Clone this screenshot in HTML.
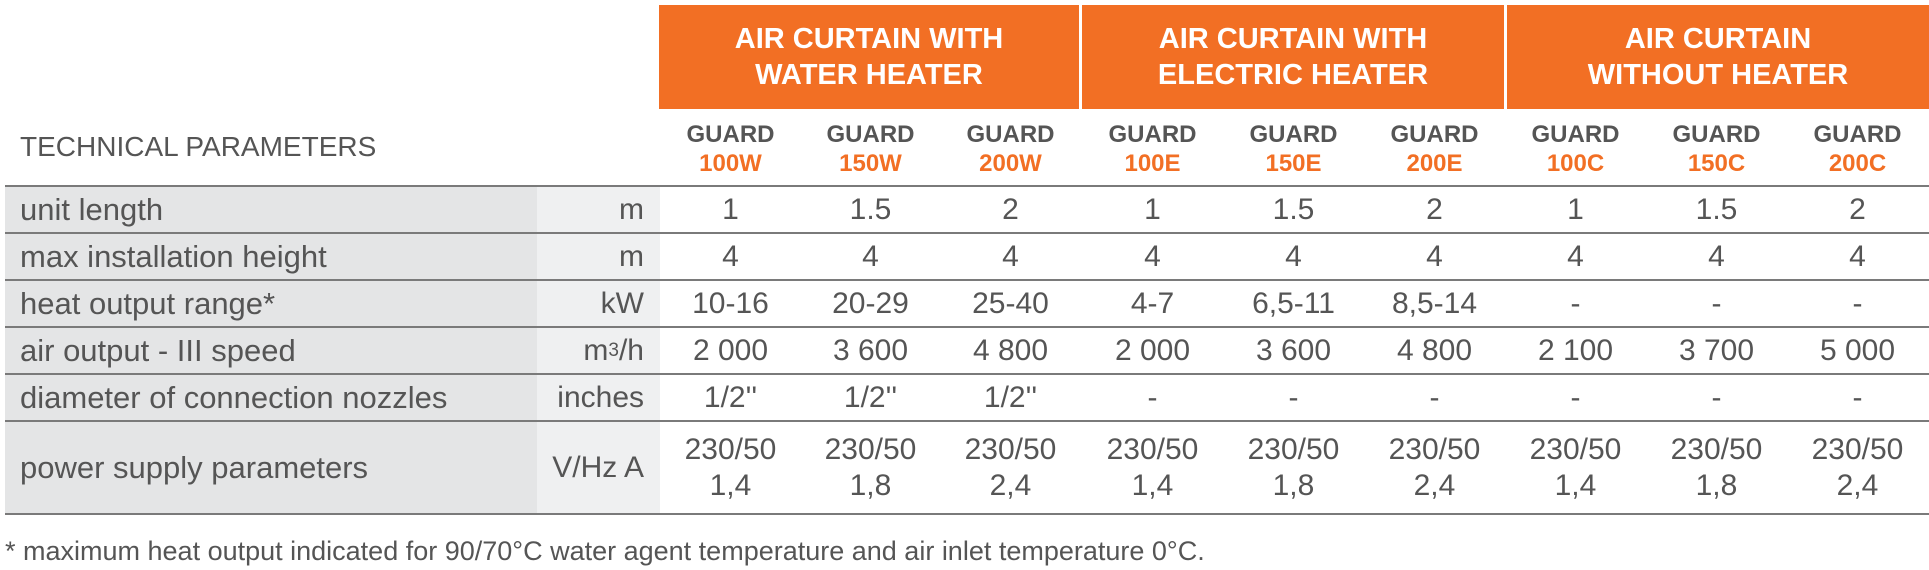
<!DOCTYPE html>
<html><head><meta charset="utf-8">
<style>
body{margin:0;width:1929px;height:570px;background:#fff;position:relative;overflow:hidden;font-family:"Liberation Sans",sans-serif;color:#555}
.a{position:absolute}
.grp{position:absolute;top:5px;height:104px;background:#f26f24;color:#fff;font-weight:bold;font-size:29px;text-align:center;line-height:36px;display:flex;align-items:center;justify-content:center}
.mdl{position:absolute;top:120px;width:141px;text-align:center;font-weight:bold;font-size:24px;line-height:29px;color:#555}
.mdl span{color:#f26f24;display:block}
.ln{position:absolute;left:5px;right:0;height:2px;background:#7a7a7a}
.cell{position:absolute;display:flex;align-items:center;font-size:30px;color:#555}
.lab{left:20px;font-size:31px}
.unit{left:537px;width:107px;justify-content:flex-end;font-size:30px}
.v{width:141px;justify-content:center;text-align:center}
</style></head><body>
<div class="a" style="left:5px;top:186px;width:532px;height:328px;background:#e4e5e6"></div>
<div class="a" style="left:537px;top:186px;width:123px;height:328px;background:#eff0f1"></div>
<div class="grp" style="left:659px;width:420px">AIR CURTAIN WITH<br>WATER HEATER</div>
<div class="grp" style="left:1082px;width:422px">AIR CURTAIN WITH<br>ELECTRIC HEATER</div>
<div class="grp" style="left:1507px;width:422px">AIR CURTAIN<br>WITHOUT HEATER</div>
<div class="a" style="left:20px;top:131px;font-size:28px;color:#555">TECHNICAL PARAMETERS</div>
<div id="t"></div>
<div class="a" style="left:5px;top:536px;font-size:27px;color:#555;white-space:nowrap">* maximum heat output indicated for 90/70°C water agent temperature and air inlet temperature 0°C.</div>
<script>
const models=["100W","150W","200W","100E","150E","200E","100C","150C","200C"];
const centers=[730,870,1010,1152,1293,1434,1575,1716,1857];
const labels=["unit length","max installation height","heat output range*","air output - III speed","diameter of connection nozzles","power supply parameters"];
const units=["m","m","kW","m<sup style='font-size:19px'>3</sup>/h","inches","V/Hz A"];
const vals=[
["1","1.5","2","1","1.5","2","1","1.5","2"],
["4","4","4","4","4","4","4","4","4"],
["10-16","20-29","25-40","4-7","6,5-11","8,5-14","-","-","-"],
["2 000","3 600","4 800","2 000","3 600","4 800","2 100","3 700","5 000"],
["1/2''","1/2''","1/2''","-","-","-","-","-","-"],
["230/50<br>1,4","230/50<br>1,8","230/50<br>2,4","230/50<br>1,4","230/50<br>1,8","230/50<br>2,4","230/50<br>1,4","230/50<br>1,8","230/50<br>2,4"]];
const lines=[185,232,279,326,373,420,513];
const t=document.getElementById('t');
let h='';
models.forEach((m,i)=>{h+=`<div class="mdl" style="left:${centers[i]-70}px">GUARD<span>${m}</span></div>`;});
lines.forEach((y,i)=>{h+=`<div class="ln" style="top:${y}px"></div>`;});
labels.forEach((l,r)=>{
 const y0=lines[r]+2,hh=lines[r+1]-y0;
 const st=`top:${y0}px;height:${hh}px;`;
 h+=`<div class="cell lab" style="${st}">${l}</div>`;
 h+=`<div class="cell unit" style="${st}">${units[r]}</div>`;
 vals[r].forEach((v,c)=>{
  h+=`<div class="cell v" style="${st}left:${centers[c]-70}px;line-height:36px">${v}</div>`;
 });
});
t.innerHTML=h;
</script>
</body></html>
